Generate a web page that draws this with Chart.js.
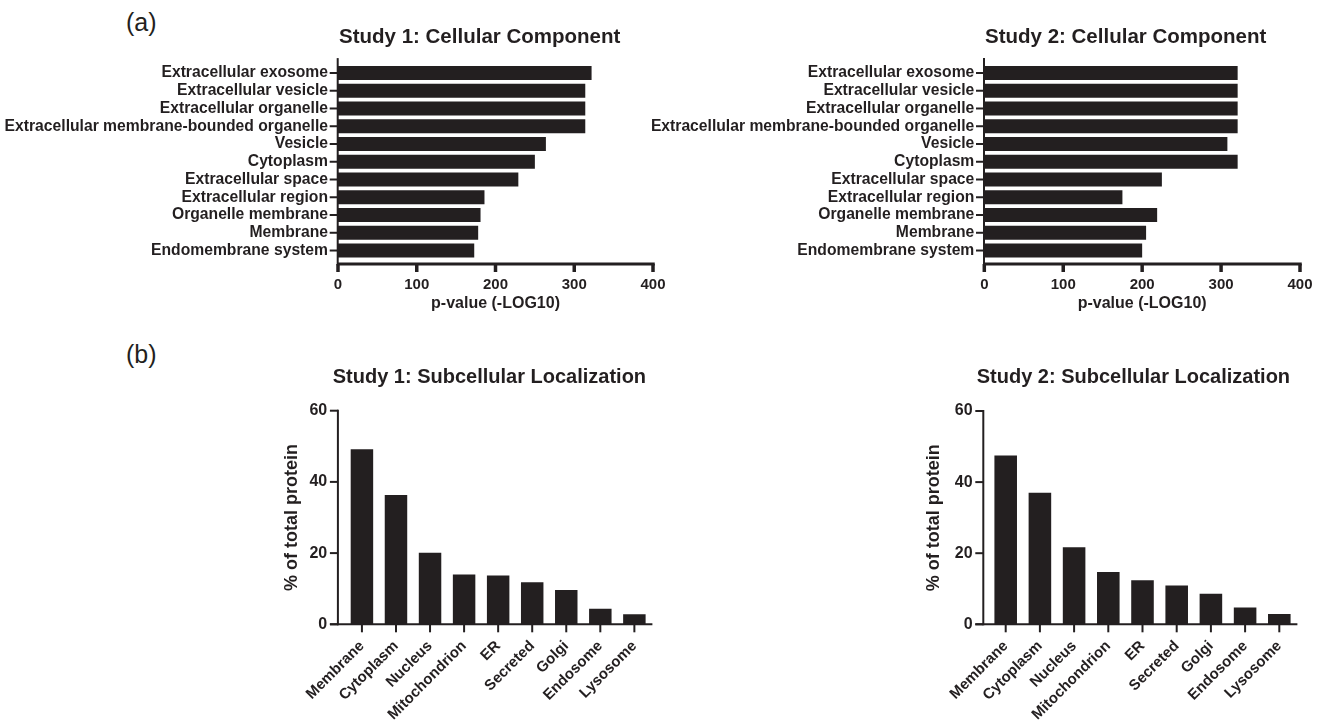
<!DOCTYPE html>
<html>
<head>
<meta charset="utf-8">
<script src="https://cdn.jsdelivr.net/npm/chart.js@4.4.1/dist/chart.umd.min.js"></script>
<style>
  html, body { margin: 0; padding: 0; background: #fff; }
  #page { position: relative; width: 1323px; height: 726px; overflow: hidden; }
  #page canvas { position: absolute; left: 0; top: 0; }
  .panel { position: absolute; font: 25px "Liberation Sans", Arial, sans-serif; line-height: 1; color: #231f20; }
</style>
</head>
<body>
<div id="page">
  <div class="panel" style="left:126px;top:10px">(a)</div>
  <div class="panel" style="left:126px;top:342px">(b)</div>
  <canvas id="cc1" width="1323" height="726"></canvas>
  <canvas id="cc2" width="1323" height="726"></canvas>
  <canvas id="loc1" width="1323" height="726"></canvas>
  <canvas id="loc2" width="1323" height="726"></canvas>
</div>
<script>
// GO cellular component terms, p-value as -log10
const ccTerms = ['Extracellular exosome', 'Extracellular vesicle', 'Extracellular organelle',
  'Extracellular membrane-bounded organelle', 'Vesicle', 'Cytoplasm', 'Extracellular space',
  'Extracellular region', 'Organelle membrane', 'Membrane', 'Endomembrane system'];
const ccStudy1 = [322, 314, 314, 314, 264, 250, 229, 186, 181, 178, 173];
const ccStudy2 = [321, 321, 321, 321, 308, 321, 225, 175, 219, 205, 200];
const pTicks = [0, 100, 200, 300, 400];

// subcellular localization, % of total protein
const locTerms = ['Membrane', 'Cytoplasm', 'Nucleus', 'Mitochondrion', 'ER', 'Secreted', 'Golgi', 'Endosome', 'Lysosome'];
const locStudy1 = [49.2, 36.3, 20.1, 14.0, 13.7, 11.8, 9.6, 4.4, 2.8];
const locStudy2 = [47.5, 37.0, 21.7, 14.7, 12.4, 10.9, 8.6, 4.7, 2.9];
const pctTicks = [0, 20, 40, 60];

const W = 1323, H = 726;
const ink = '#231f20';
const family = '"Liberation Sans", Arial, sans-serif';
Chart.defaults.font.family = family;
Chart.defaults.color = ink;

// prism style axes: offset axis lines + outside tick marks
const prismAxes = {
  id: 'prismAxes',
  afterDatasetsDraw(chart, args, o) {
    const { ctx, chartArea: a } = chart;
    const xs = chart.scales.x, ys = chart.scales.y;
    const ax = a.left - o.gapX;
    const ay = a.bottom + o.gapY;
    const seg = (x1, y1, x2, y2, w) => {
      ctx.lineWidth = w;
      ctx.beginPath(); ctx.moveTo(x1, y1); ctx.lineTo(x2, y2); ctx.stroke();
    };
    ctx.save();
    ctx.strokeStyle = ink;
    xs.ticks.forEach((t, i) => { const p = xs.getPixelForTick(i); seg(p, ay, p, ay + o.tick, o.xTickW); });
    ys.ticks.forEach((t, i) => { const p = ys.getPixelForTick(i); seg(ax - o.tick, p, ax, p, o.yTickW); });
    seg(ax, a.top - o.yExt, ax, ay + o.xLineW / 2, o.yLineW);
    seg(ax - o.xExt, ay, a.right + o.xTickW / 2, ay, o.xLineW);
    ctx.restore();
  }
};

// graph title, left aligned near the y axis like the prism export
const panelTitle = {
  id: 'panelTitle',
  afterDraw(chart, args, o) {
    const { ctx, chartArea: a } = chart;
    ctx.save();
    ctx.font = 'bold ' + o.size + 'px ' + family;
    ctx.fillStyle = ink;
    ctx.textAlign = 'left';
    ctx.textBaseline = 'alphabetic';
    ctx.fillText(o.text, a.left + o.dx, a.top - o.dy);
    ctx.restore();
  }
};

function fixSize(size, horizontal) {
  return scale => {
    if (horizontal) scale.height = size; else scale.width = size;
    scale.paddingLeft = scale.paddingRight = scale.paddingTop = scale.paddingBottom = 0;
  };
}
const useTicks = list => scale => { scale.ticks = list.map(v => ({ value: v })); };

const ccAxisBottom = 313;

// area = chart area box, padL = where the label column starts
function cellularChart(id, title, values, area, padL, dx) {
  return new Chart(document.getElementById(id), {
    type: 'bar',
    data: {
      labels: ccTerms,
      datasets: [{ data: values, backgroundColor: ink, barPercentage: 0.79, categoryPercentage: 1 }]
    },
    options: {
      indexAxis: 'y',
      responsive: false,
      animation: false,
      layout: { padding: { left: padL, right: W - area.right, top: area.top, bottom: H - ccAxisBottom } },
      plugins: {
        legend: { display: false },
        tooltip: { enabled: false },
        panelTitle: { text: title, size: 20.5, dx: dx, dy: 20.7 },
        prismAxes: { gapX: 0.3, gapY: 4.6, yExt: 6, xExt: 0, tick: 8,
                     xLineW: 3, yLineW: 2, xTickW: 3.5, yTickW: 2 }
      },
      scales: {
        x: {
          min: pTicks[0], max: pTicks[pTicks.length - 1],
          afterBuildTicks: useTicks(pTicks),
          afterFit: fixSize(ccAxisBottom - area.bottom, true),
          grid: { display: false, drawTicks: false, tickLength: 0 },
          border: { display: false },
          ticks: { padding: 16, maxRotation: 0, font: { size: 15, weight: 'bold' } },
          title: { display: true, text: 'p-value (-LOG10)', padding: 0, font: { size: 16, weight: 'bold' } }
        },
        y: {
          afterFit: fixSize(area.left - padL, false),
          grid: { display: false, drawTicks: false, tickLength: 0 },
          border: { display: false },
          ticks: { padding: 10, autoSkip: false, font: { size: 15.7, weight: 'bold' } }
        }
      }
    },
    plugins: [prismAxes, panelTitle]
  });
}

function localizationChart(id, title, values, area, padL, yTitleX, gapX, dx) {
  return new Chart(document.getElementById(id), {
    type: 'bar',
    data: {
      labels: locTerms,
      datasets: [{ data: values, backgroundColor: ink, barPercentage: 0.66, categoryPercentage: 1 }]
    },
    options: {
      responsive: false,
      animation: false,
      layout: { padding: { left: padL, right: W - area.right, top: area.top, bottom: 0 } },
      plugins: {
        legend: { display: false },
        tooltip: { enabled: false },
        panelTitle: { text: title, size: 20, dx: dx, dy: 28 },
        prismAxes: { gapX: gapX, gapY: 0, yExt: 1, xExt: 8, tick: 8,
                     xLineW: 2, yLineW: 2, xTickW: 2, yTickW: 2 }
      },
      scales: {
        x: {
          afterFit: fixSize(H - area.bottom, true),
          grid: { display: false, drawTicks: false, tickLength: 0 },
          border: { display: false },
          ticks: { padding: 13, autoSkip: false, minRotation: 45, maxRotation: 45, font: { size: 15, weight: 'bold' } }
        },
        y: {
          min: pctTicks[0], max: pctTicks[pctTicks.length - 1],
          afterBuildTicks: useTicks(pctTicks),
          afterFit: fixSize(area.left - padL, false),
          grid: { display: false, drawTicks: false, tickLength: 0 },
          border: { display: false },
          ticks: { padding: gapX + 10.7, font: { size: 16, weight: 'bold' } },
          title: { display: true, text: '% of total protein', font: { size: 18, weight: 'bold' },
                   padding: { top: yTitleX - padL - 10.8 } }
        }
      }
    },
    plugins: [prismAxes, panelTitle]
  });
}

cellularChart('cc1', 'Study 1: Cellular Component', ccStudy1,
  { left: 338, right: 653, top: 64.1, bottom: 259.4 }, 0, 1);
cellularChart('cc2', 'Study 2: Cellular Component', ccStudy2,
  { left: 984.3, right: 1300, top: 64.1, bottom: 259.4 }, 600, 0.7);
localizationChart('loc1', 'Study 1: Subcellular Localization', locStudy1,
  { left: 344.9, right: 651.4, top: 410.7, bottom: 624.3 }, 270, 291.7, 7, -12.2);
localizationChart('loc2', 'Study 2: Subcellular Localization', locStudy2,
  { left: 988.6, right: 1296.4, top: 411, bottom: 624.3 }, 915, 934, 5.3, -11.9);
</script>
</body>
</html>
